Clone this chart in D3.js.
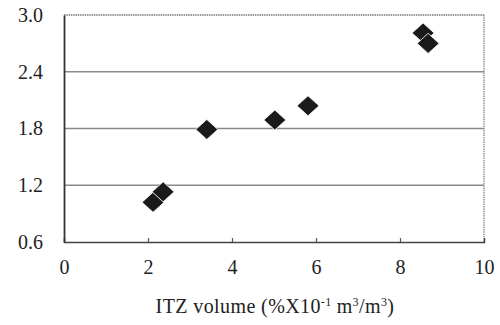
<!DOCTYPE html>
<html>
<head>
<meta charset="utf-8">
<script src="https://cdn.jsdelivr.net/npm/d3@7"></script>
<style>
  html, body { margin: 0; padding: 0; background: #fff; }
  svg { display: block; }
</style>
</head>
<body>
<svg id="chart" width="500" height="325"></svg>
<script>
// ITZ volume (x) against measured value (y)
const itzVolume = [2.12, 2.36, 3.4, 5.02, 5.81, 8.55, 8.67];
const measured  = [1.02, 1.13, 1.79, 1.89, 2.04, 2.81, 2.70];
const xTicks = [0, 2, 4, 6, 8, 10];
const yTicks = [0.6, 1.2, 1.8, 2.4, 3.0];

const serif = "'Liberation Serif'";
const svg = d3.select("#chart");
const margin = { left: 64, top: 15, right: 16, bottom: 83 };
const W = 500, H = 325;
const x = d3.scaleLinear().domain([0, 10]).range([margin.left, W - margin.right]);
const y = d3.scaleLinear().domain([0.6, 3.0]).range([H - margin.bottom, margin.top]);

// horizontal gridlines
svg.append("g").selectAll("line")
  .data(yTicks.filter(v => v > 0.6 && v < 3.0))
  .join("line")
  .attr("x1", x(0)).attr("x2", x(10))
  .attr("y1", d => y(d)).attr("y2", d => y(d))
  .attr("stroke", "#8a8a8a").attr("stroke-width", 1.3);

// frame: top and right dotted, left and bottom solid
svg.append("line").attr("x1", x(0)).attr("x2", x(10)).attr("y1", y(3.0)).attr("y2", y(3.0))
  .attr("stroke", "#777").attr("stroke-width", 1.5).attr("stroke-dasharray", "1.5,0.8");
svg.append("line").attr("x1", x(10)).attr("x2", x(10)).attr("y1", y(3.0)).attr("y2", y(0.6))
  .attr("stroke", "#888").attr("stroke-width", 1.3).attr("stroke-dasharray", "1.5,0.8");

// x axis
const xAxis = svg.append("g")
  .attr("transform", `translate(0,${y(0.6)})`)
  .call(d3.axisBottom(x).tickValues(xTicks).tickSize(-4).tickPadding(18).tickFormat(d3.format("d")));
xAxis.select(".domain").attr("stroke", "#444").attr("stroke-width", 1.5);
xAxis.selectAll(".tick line").attr("stroke", "#555").attr("stroke-width", 1.2)
  .filter(d => d === 0 || d === 10).remove();
xAxis.selectAll("text").attr("font-size", 20).style("font-family", serif).attr("fill", "#222");

// y axis
const yAxis = svg.append("g")
  .attr("transform", `translate(${x(0)},0)`)
  .call(d3.axisLeft(y).tickValues(yTicks).tickSize(0).tickPadding(21).tickFormat(d3.format(".1f")));
yAxis.select(".domain").attr("stroke", "#333").attr("stroke-width", 1.8);
yAxis.selectAll("text").attr("font-size", 20).style("font-family", serif).attr("fill", "#222");

// diamond markers
svg.append("g").selectAll("path")
  .data(itzVolume.map((v, i) => [v, measured[i]]))
  .join("path")
  .attr("transform", d => `translate(${x(d[0])},${y(d[1])})`)
  .attr("d", "M0,-10 L11,0 L0,10 L-11,0 Z")
  .attr("fill", "#1a1a1a")
  .attr("stroke", "#fff").attr("stroke-width", 0.8).attr("stroke-linejoin", "round");

// x axis title
const title = svg.append("text")
  .attr("x", 275).attr("y", 313)
  .attr("text-anchor", "middle")
  .attr("font-size", 20)
  .attr("letter-spacing", 0.4)
  .style("font-family", serif)
  .attr("fill", "#222");
title.append("tspan").text("ITZ volume (%X10");
title.append("tspan").attr("dy", -7).attr("font-size", 12).text("-1");
title.append("tspan").attr("dx", 5).attr("dy", 7).text("m");
title.append("tspan").attr("dy", -7).attr("font-size", 12).text("3");
title.append("tspan").attr("dy", 7).text("/m");
title.append("tspan").attr("dy", -7).attr("font-size", 12).text("3");
title.append("tspan").attr("dy", 7).text(")");
</script>
</body>
</html>
